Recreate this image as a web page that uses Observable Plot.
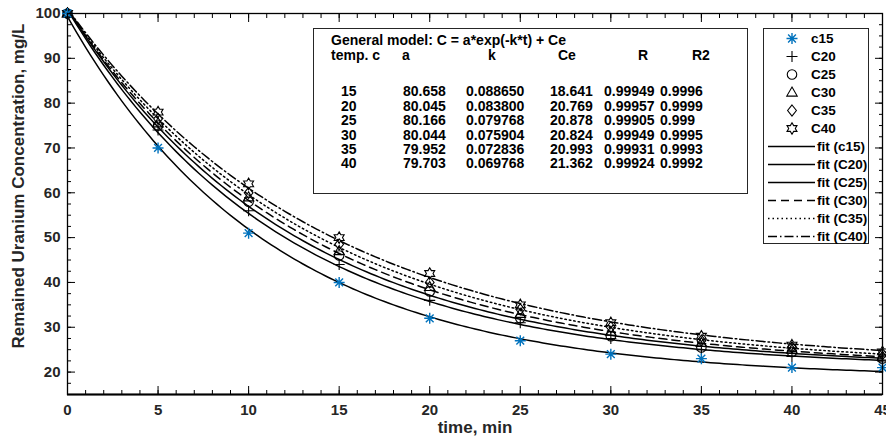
<!DOCTYPE html>
<html><head><meta charset="utf-8">
<script src="https://cdn.jsdelivr.net/npm/d3@7"></script>
<script src="https://cdn.jsdelivr.net/npm/@observablehq/plot@0.6"></script>
<style>
body{margin:0;background:#fff;}
#chart{position:relative;width:886px;height:440px;overflow:hidden;}
</style></head><body><div id="chart"></div>
<script>
// ---- data ----
const times = [0, 5, 10, 15, 20, 25, 30, 35, 40, 45];
const seriesNames = ["c15", "C20", "C25", "C30", "C35", "C40"];
const c15 = [100, 70, 51, 40, 32, 27, 24, 23, 21, 21];
const C20 = [100, 74, 56, 44, 36, 31, 27.5, 25, 23.5, 22.5];
const C25 = [100, 75, 58, 46, 38, 32, 28, 25.5, 24.5, 23];
const C30 = [100, 75.5, 59, 47, 39, 33, 29, 26.5, 25, 23.5];
const C35 = [100, 76.5, 60, 48.5, 40, 34, 30, 27, 25.5, 24];
const C40 = [100, 78, 62, 50, 42, 35, 31, 28, 26, 24.5];
const fitNames = ["fit (c15)", "fit (C20)", "fit (C25)", "fit (C30)", "fit (C35)", "fit (C40)"];
// fitted model parameters (from the chart's table): C = a*exp(-k*t) + Ce
const tempLabels = ["15", "20", "25", "30", "35", "40"];
const aLabels = ["80.658", "80.045", "80.166", "80.044", "79.952", "79.703"];
const kLabels = ["0.088650", "0.083800", "0.079768", "0.075904", "0.072836", "0.069768"];
const ceLabels = ["18.641", "20.769", "20.878", "20.824", "20.993", "21.362"];
const rLabels = ["0.99949", "0.99957", "0.99905", "0.99949", "0.99931", "0.99924"];
const r2Labels = ["0.9996", "0.9999", "0.999", "0.9995", "0.9993", "0.9992"];
const tableTitle = "General model: C = a*exp(-k*t) + Ce";
const tableHeader = ["temp. c", "a", "k", "Ce", "R", "R2"];
const xTicks = [0, 5, 10, 15, 20, 25, 30, 35, 40, 45];
const xMinor = d3.range(0, 46, 1);
const yTicks = [20, 30, 40, 50, 60, 70, 80, 90, 100];
const yMinor = d3.range(15, 100.1, 2.5);
const xLabel = "time, min";
const yLabel = "Remained Uranium Concentration, mg/L";

// ---- styles ----
const FONT = "'Liberation Sans', Arial, sans-serif";
const INK = "#262626";
const BLUE = "#0072BD";
const seriesData = [c15, C20, C25, C30, C35, C40];
const dashes = [null, null, null, "8,5", "1.5,3", "9,3,1.5,3"];

function rad(size) { return Math.sqrt(size / Math.PI); }
const symAsterisk = {draw(c, s) { const r = rad(s); const d = r * Math.SQRT1_2;
  c.moveTo(-r, 0); c.lineTo(r, 0); c.moveTo(0, -r); c.lineTo(0, r);
  c.moveTo(-d, -d); c.lineTo(d, d); c.moveTo(-d, d); c.lineTo(d, -d); }};
const symPlus = {draw(c, s) { const r = rad(s) * 1.1; c.moveTo(-r, 0); c.lineTo(r, 0); c.moveTo(0, -r); c.lineTo(0, r); }};
const symCircle = {draw(c, s) { const r = rad(s) * 0.95; c.moveTo(r, 0); c.arc(0, 0, r, 0, 2 * Math.PI); }};
const symTriangle = {draw(c, s) { const r = rad(s) * 1.1; c.moveTo(0, -r); c.lineTo(r * 0.95, r * 0.65); c.lineTo(-r * 0.95, r * 0.65); c.closePath(); }};
const symDiamond = {draw(c, s) { const r = rad(s) * 1.1; c.moveTo(0, -r); c.lineTo(r * 0.8, 0); c.lineTo(0, r); c.lineTo(-r * 0.8, 0); c.closePath(); }};
const symHexagram = {draw(c, s) { const R = rad(s) * 1.15, r = R / Math.sqrt(3);
  for (let i = 0; i < 12; i++) { const a = -Math.PI / 2 + i * Math.PI / 6; const q = i % 2 ? r : R;
    const x = q * Math.cos(a), y = q * Math.sin(a); if (i) c.lineTo(x, y); else c.moveTo(x, y); }
  c.closePath(); }};
const symbols = [symAsterisk, symPlus, symCircle, symTriangle, symDiamond, symHexagram];
const colors = [BLUE, "#000", "#000", "#000", "#000", "#000"];

const pts = seriesData.map(arr => times.map((t, i) => ({t, v: arr[i]})));
const tSample = d3.range(0, 45.0001, 0.25);
const fits = aLabels.map((a, j) => {
  const A = +a, K = +kLabels[j], Ce = +ceLabels[j];
  return tSample.map(t => ({t, v: Ce + A * Math.exp(-K * t)}));
});

const axisCommon = {label: null, stroke: "#000", strokeWidth: 1};
const plot = Plot.plot({
  width: 886, height: 440,
  marginLeft: 67, marginRight: 4, marginTop: 13, marginBottom: 46,
  x: {domain: [0, 45]},
  y: {domain: [15, 100]},
  style: {fontFamily: FONT, background: "white", overflow: "visible"},
  marks: [
    ...fits.map((f, j) => Plot.line(f, {x: "t", y: "v", stroke: "#000", strokeWidth: 1.5, strokeDasharray: dashes[j]})),
    ...pts.slice(1).map((p, j) => Plot.dot(p, {x: "t", y: "v", symbol: symbols[j + 1], r: 5, stroke: "#000", fill: "none", strokeWidth: 1.1})),
    Plot.dot(pts[0], {x: "t", y: "v", symbol: symbols[0], r: 5.5, stroke: BLUE, fill: "none", strokeWidth: 1.4}),
    Plot.frame({stroke: "#000", strokeWidth: 1.3}),
    Plot.ruleY([15], {stroke: "#000", strokeWidth: 2}),
    // inward ticks
    Plot.axisX(xTicks, {...axisCommon, anchor: "bottom", tickSize: -8, fill: "none"}),
    Plot.axisX(xMinor, {...axisCommon, anchor: "bottom", tickSize: -4, fill: "none"}),
    Plot.axisX(xTicks, {...axisCommon, anchor: "top", tickSize: -8, fill: "none"}),
    Plot.axisX(xMinor, {...axisCommon, anchor: "top", tickSize: -4, fill: "none"}),
    Plot.axisY(yTicks, {...axisCommon, anchor: "left", tickSize: -8, fill: "none"}),
    Plot.axisY(yMinor, {...axisCommon, anchor: "left", tickSize: -4, fill: "none"}),
    Plot.axisY(yTicks, {...axisCommon, anchor: "right", tickSize: -8, fill: "none"}),
    Plot.axisY(yMinor, {...axisCommon, anchor: "right", tickSize: -4, fill: "none"}),
    // tick labels
    Plot.axisX(xTicks, {anchor: "bottom", tickSize: 0, tickPadding: 10, label: null, fontSize: 15, fontWeight: "bold", fill: INK}),
    Plot.axisY(yTicks, {anchor: "left", tickSize: 0, tickPadding: 7, label: null, fontSize: 15, fontWeight: "bold", fill: INK}),
    // axis titles
    Plot.text([xLabel], {frameAnchor: "bottom", dy: 38, textAnchor: "middle", fontSize: 17, fontWeight: "bold", fill: INK}),
    Plot.text([yLabel], {frameAnchor: "left", dx: -49, dy: -18, rotate: -90, textAnchor: "middle", fontSize: 17, fontWeight: "bold", fill: INK})
  ]
});
document.getElementById("chart").appendChild(plot);

// ---- annotation table and legend (pixel layout) ----
const svg = d3.select(plot);
const tbl = svg.append("g").attr("font-family", FONT).attr("font-weight", "bold").attr("font-size", 14)
  .attr("fill", "#000").attr("text-anchor", "start");
tbl.append("rect").attr("x", 313.5).attr("y", 28.5).attr("width", 434).attr("height", 165).attr("fill", "white").attr("stroke", INK).attr("stroke-width", 1);
tbl.append("text").attr("x", 331).attr("y", 40).attr("dy", "0.35em").text(tableTitle);
const colX = [331, 402, 488, 558, 638, 692];
tableHeader.forEach((h, i) => tbl.append("text").attr("x", colX[i]).attr("y", 55).attr("dy", "0.35em").text(h));
const dataColX = [341, 403, 466, 550, 604, 660];
const cols = [tempLabels, aLabels, kLabels, ceLabels, rLabels, r2Labels];
tempLabels.forEach((_, r) => {
  cols.forEach((col, c) => tbl.append("text").attr("x", dataColX[c]).attr("y", 91.5 + r * 14.4).attr("dy", "0.35em").text(col[r]));
});

const lg = svg.append("g").attr("font-family", FONT).attr("font-weight", "bold").attr("font-size", 13.5)
  .attr("fill", "#000").attr("text-anchor", "start");
lg.append("rect").attr("x", 763.5).attr("y", 28.5).attr("width", 105).attr("height", 215).attr("fill", "white").attr("stroke", INK).attr("stroke-width", 1);
seriesNames.forEach((n, i) => {
  const y = 38.5 + i * 18;
  lg.append("path").attr("transform", `translate(792,${y})`)
    .attr("d", d3.symbol().type(symbols[i]).size(Math.PI * (i ? 5 : 5.5) ** 2)())
    .attr("fill", "none").attr("stroke", colors[i]).attr("stroke-width", i ? 1.1 : 1.4);
  lg.append("text").attr("x", 811).attr("y", y).attr("dy", "0.35em").text(n);
});
fitNames.forEach((n, i) => {
  const y = 146.5 + i * 18;
  lg.append("line").attr("x1", 768).attr("x2", 815).attr("y1", y).attr("y2", y)
    .attr("stroke", "#000").attr("stroke-width", 1.5).attr("stroke-dasharray", dashes[i]);
  lg.append("text").attr("x", 817).attr("y", y).attr("dy", "0.35em").text(n);
});
</script></body></html>
